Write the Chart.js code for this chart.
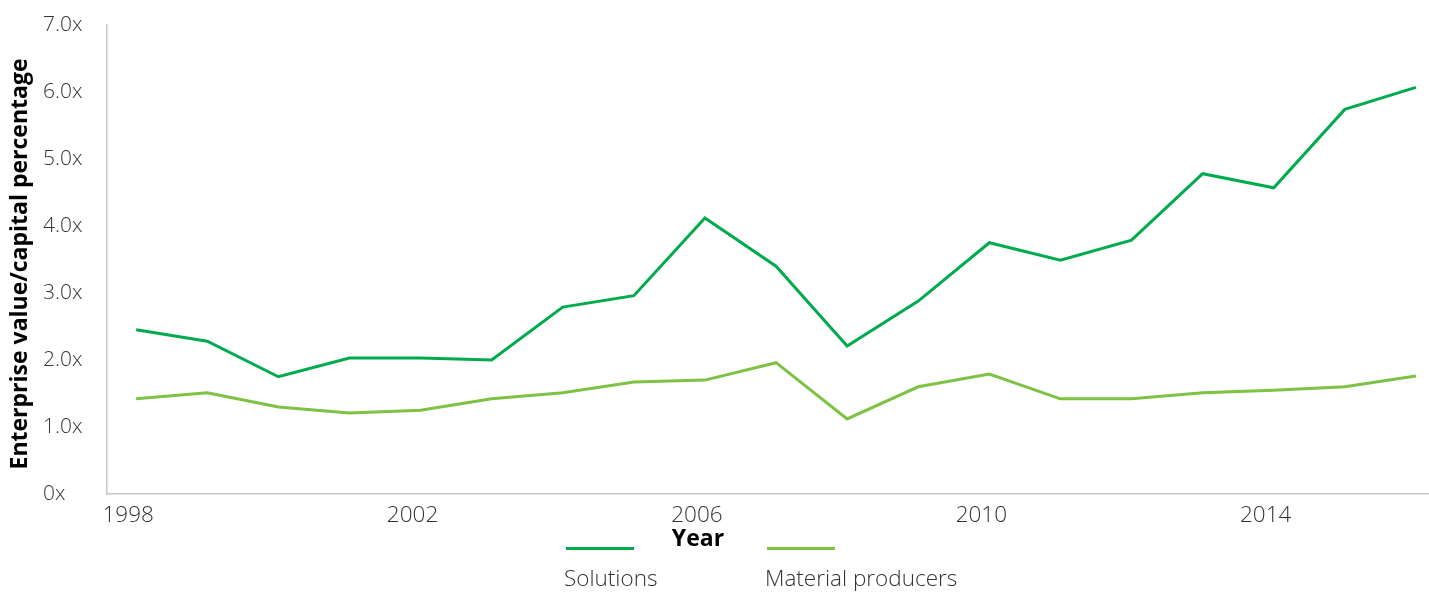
<!DOCTYPE html>
<html>
<head>
<meta charset="utf-8">
<script src="https://cdn.jsdelivr.net/npm/chart.js@4.4.1/dist/chart.umd.min.js"></script>
<style>
  html, body { margin: 0; padding: 0; background: #fff; }
  #wrap { position: relative; width: 1429px; height: 593px; overflow: hidden; }
  #wrap canvas { position: absolute; left: 0; top: 0; }
  .lg-item { position: absolute; top: 547px; font-family: 'Open Sans', sans-serif; font-weight: 300; font-size: 22.5px; color: #333; }
  .lg-line { width: 68px; height: 3px; }
  .lg-text { margin-top: 13px; line-height: 30px; white-space: nowrap; margin-left: -2px; }
</style>
</head>
<body>
<div id="wrap">
  <canvas id="c" width="1429" height="593"></canvas>
  <div id="legend"></div>
</div>
<script>
// ---- data ----
const years = [1998, 1999, 2000, 2001, 2002, 2003, 2004, 2005, 2006, 2007, 2008, 2009, 2010, 2011, 2012, 2013, 2014, 2015, 2016];
const solutions = [2.45, 2.28, 1.75, 2.03, 2.03, 2.00, 2.79, 2.96, 4.12, 3.40, 2.21, 2.88, 3.75, 3.49, 3.79, 4.78, 4.57, 5.74, 6.07];
const materialProducers = [1.42, 1.51, 1.30, 1.21, 1.25, 1.42, 1.51, 1.67, 1.70, 1.96, 1.12, 1.60, 1.79, 1.42, 1.42, 1.51, 1.55, 1.60, 1.76];
const seriesNames = ['Solutions', 'Material producers'];
const xTickValues = [1998, 2002, 2006, 2010, 2014];
const xTickLabels = ['1998', '2002', '2006', '2010', '2014'];
const yTickLabels = ['0x', '1.0x', '2.0x', '3.0x', '4.0x', '5.0x', '6.0x', '7.0x'];
const yTitle = 'Enterprise value/capital percentage';
const xTitle = 'Year';

const colors = ['#00AB4E', '#7DC242'];
const FONT = "'Open Sans', sans-serif";

const ds = [solutions, materialProducers].map((vals, i) => ({
  label: seriesNames[i],
  data: years.map((y, j) => ({ x: y, y: vals[j] })),
  borderColor: colors[i],
  backgroundColor: colors[i],
  borderWidth: 3,
  pointRadius: 0,
  pointHoverRadius: 0,
  tension: 0,
  fill: false
}));

// axis titles drawn at their positions in the reference layout
const titlesPlugin = {
  id: 'axisTitles',
  afterDraw(chart) {
    const ctx = chart.ctx;
    ctx.save();
    ctx.fillStyle = '#000';
    ctx.textAlign = 'center';
    ctx.textBaseline = 'middle';
    ctx.font = "bold 23px " + FONT;
    ctx.fillText(xTitle, 698, 539);
    ctx.translate(20, 264);
    ctx.rotate(-Math.PI / 2);
    ctx.fillText(yTitle, 0, 0);
    ctx.restore();
  }
};

new Chart(document.getElementById('c'), {
  type: 'line',
  data: { datasets: ds },
  options: {
    responsive: false,
    animation: false,
    layout: { padding: { top: 25, right: 1, bottom: 39, left: 43 } },
    plugins: { legend: { display: false }, tooltip: { enabled: false } },
    scales: {
      x: {
        type: 'linear',
        min: 1997.59,
        max: 2016.17,
        afterBuildTicks: (axis) => { axis.ticks = xTickValues.map(v => ({ value: v })); },
        afterFit: (s) => { s.height = 60; s.paddingLeft = 0; s.paddingRight = 0; },
        ticks: {
          autoSkip: false,
          maxRotation: 0,
          padding: 8,
          labelOffset: -8,
          color: '#333',
          font: { family: FONT, size: 22.5, weight: '300' },
          callback: (v) => { const k = xTickValues.indexOf(v); return k >= 0 ? xTickLabels[k] : ''; }
        },
        grid: { display: false, drawTicks: false },
        border: { display: true, color: '#c8c8c8', width: 1.5 },
        title: { display: false }
      },
      y: {
        min: 0,
        max: 7,
        afterFit: (s) => { s.width = 64; s.paddingTop = 0; s.paddingBottom = 0; },
        ticks: {
          stepSize: 1,
          padding: 22,
          crossAlign: 'far',
          color: '#333',
          font: { family: FONT, size: 21, weight: '300' },
          callback: (v) => yTickLabels[Math.round(v)]
        },
        grid: { display: false, drawTicks: false },
        border: { display: true, color: '#c8c8c8', width: 1.5 },
        title: { display: false }
      }
    }
  },
  plugins: [titlesPlugin]
});

// HTML legend: sample line above label
const legendLeft = [566, 767];
const lg = document.getElementById('legend');
seriesNames.forEach((name, i) => {
  const item = document.createElement('div');
  item.className = 'lg-item';
  item.style.left = legendLeft[i] + 'px';
  const line = document.createElement('div');
  line.className = 'lg-line';
  line.style.background = colors[i];
  const txt = document.createElement('div');
  txt.className = 'lg-text';
  txt.textContent = name;
  item.appendChild(line);
  item.appendChild(txt);
  lg.appendChild(item);
});
</script>
</body>
</html>
